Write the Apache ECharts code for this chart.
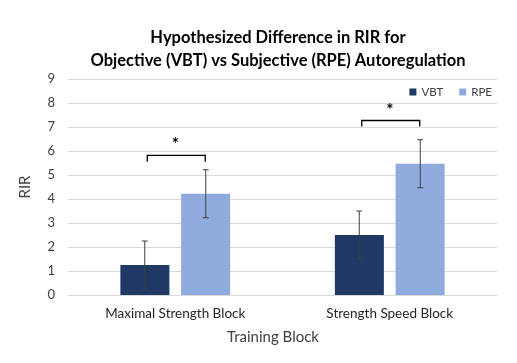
<!DOCTYPE html>
<html><head><meta charset="utf-8">
<script src="https://cdn.jsdelivr.net/npm/echarts@6/dist/echarts.min.js"></script>
<style>html,body{margin:0;padding:0;background:#fff}#c{width:517px;height:363px}</style>
</head><body><div id="c"></div>
<script>
var categories = ['Maximal Strength Block', 'Strength Speed Block'];
var vbtValues = [1.25, 2.5];
var rpeValues = [4.22, 5.47];
var vbtErr = [1.0, 1.0];
var rpeErr = [1.0, 1.0];
// significance brackets: [categoryIndex, bracketTop, tickBottom, starY]
var sigBrackets = [[0, 5.82, 5.55, 6.28], [1, 7.27, 7.02, 7.7]];
var yTicks = [0, 9, 1];

var FONT = 'Lato';
var chart = echarts.init(document.getElementById('c'));

function errSeries(vals, errs, off) {
  return {
    type: 'custom', silent: true, z: 5,
    data: vals.map(function (v, i) { return [i, v, errs[i]]; }),
    renderItem: function (params, api) {
      var i = api.value(0), v = api.value(1), e = api.value(2);
      var top = api.coord([i, v + e]), bot = api.coord([i, v - e]);
      var x = top[0] + off, cw = 3;
      var st = { stroke: '#404040', lineWidth: 1 };
      return { type: 'group', children: [
        { type: 'line', shape: { x1: x, y1: top[1], x2: x, y2: bot[1] }, style: st },
        { type: 'line', shape: { x1: x - cw, y1: top[1], x2: x + cw, y2: top[1] }, style: st },
        { type: 'line', shape: { x1: x - cw, y1: bot[1], x2: x + cw, y2: bot[1] }, style: st }
      ]};
    }
  };
}

chart.setOption({
  animation: false,
  title: {
    text: 'Hypothesized Difference in RIR for\nObjective (VBT) vs Subjective (RPE) Autoregulation',
    left: 273, top: 21, textAlign: 'center',
    textStyle: { fontFamily: FONT, fontSize: 16.5, fontWeight: 'bold', color: '#000', lineHeight: 23 }
  },
  legend: {
    data: ['VBT', 'RPE'], right: 20, top: 81,
    icon: 'rect', itemWidth: 7, itemHeight: 7, itemGap: 16,
    textStyle: { fontFamily: FONT, fontSize: 11.5, color: '#404040' }
  },
  grid: { left: 68, right: 20, top: 79, bottom: 68 },
  xAxis: {
    type: 'category', data: categories,
    name: 'Training Block', nameLocation: 'middle', nameGap: 42,
    nameTextStyle: { fontFamily: FONT, fontSize: 15, color: '#404040', verticalAlign: 'middle', padding: [0, 19, 0, 0] },
    axisLine: { lineStyle: { color: '#d9d9d9' } },
    axisTick: { show: false },
    axisLabel: { fontFamily: FONT, fontSize: 13.5, color: '#262626', margin: 12 }
  },
  yAxis: {
    type: 'value', min: yTicks[0], max: yTicks[1], interval: yTicks[2],
    name: 'RIR', nameLocation: 'middle', nameGap: 35, nameRotate: 90,
    nameTextStyle: { fontFamily: FONT, fontSize: 15, color: '#404040' },
    axisLine: { show: false }, axisTick: { show: false },
    splitLine: { lineStyle: { color: '#d9d9d9', width: 1 } },
    axisLabel: { fontFamily: FONT, fontSize: 13, color: '#404040', margin: 13 }
  },
  series: [
    { name: 'VBT', type: 'bar', data: vbtValues, barWidth: 49, barGap: '24%', itemStyle: { color: '#203864' } },
    { name: 'RPE', type: 'bar', data: rpeValues, barWidth: 49, itemStyle: { color: '#8faadc' } },
    errSeries(vbtValues, vbtErr, -30.5),
    errSeries(rpeValues, rpeErr, 30.5),
    {
      type: 'custom', silent: true, z: 6,
      data: sigBrackets,
      renderItem: function (params, api) {
        var i = api.value(0);
        var t = api.coord([i, api.value(1)]), b = api.coord([i, api.value(2)]), s = api.coord([i, api.value(3)]);
        var x1 = t[0] - 28, x2 = t[0] + 30;
        return { type: 'group', children: [
          { type: 'polyline', shape: { points: [[x1, b[1]], [x1, t[1]], [x2, t[1]], [x2, b[1]]] },
            style: { stroke: '#000', lineWidth: 1.3, fill: null } },
          { type: 'text', x: t[0], y: s[1],
            style: { text: '*', fontFamily: FONT, fontSize: 17, fontWeight: 'bold', fill: '#000', align: 'center', verticalAlign: 'middle' } }
        ]};
      }
    }
  ]
});
</script></body></html>
